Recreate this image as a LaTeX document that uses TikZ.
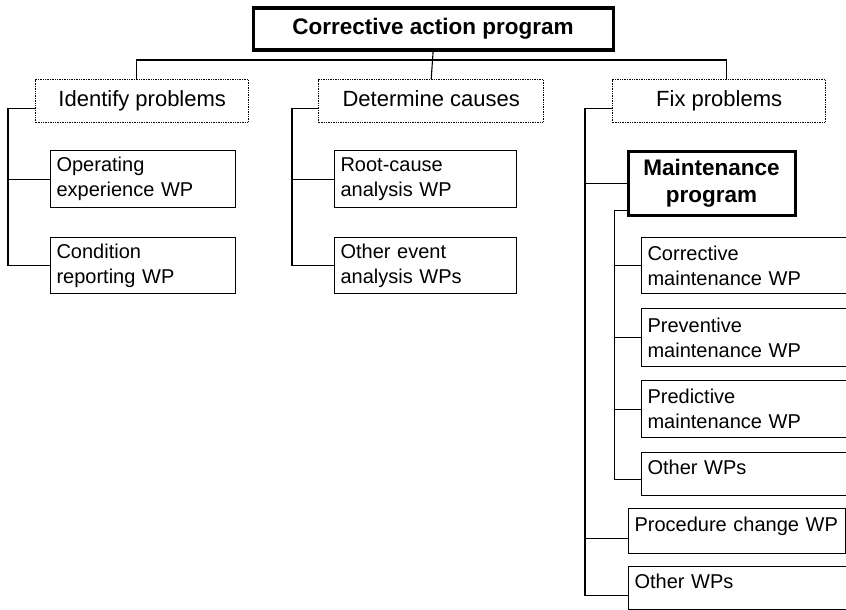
\documentclass[tikz,border=0pt]{standalone}
\usepackage{fontspec}
\setmainfont{Liberation Sans}
\usepackage{tikz}

\tikzset{
  box/.style={draw, line width=1.1pt, anchor=north west, inner xsep=6pt, inner ysep=0pt,
    align=left, font=\fontsize{20}{25}\selectfont},
  onebox/.style={box, text height=10pt, text depth=10pt},
  group/.style={draw, densely dotted, line width=1.4pt, anchor=north west, inner sep=0pt,
    text height=16pt, text depth=5pt, font=\fontsize{22}{26}\selectfont},
  prog/.style={draw, line width=3.2pt, anchor=north west, inner sep=0pt, align=center,
    font=\bfseries\fontsize{22.5}{27}\selectfont},
  link/.style={line width=1.1pt},
}

\begin{document}
\begin{tikzpicture}[x=1pt,y=-1pt]
    \useasboundingbox (0,0) rectangle (846,610);
    \node[prog, minimum width=360pt, minimum height=42pt] (CAP) at (251.5,6.5) {Corrective action program};
    % groups
    \node[group, minimum width=213pt, minimum height=43pt] (IP) at (35,79) {Identify problems};
    \node[group, minimum width=225pt, minimum height=43pt] (DC) at (318,79) {Determine causes};
    \node[group, minimum width=213pt, minimum height=43pt] (FP) at (612,79) {Fix problems};
    % work packages
    \node[box, text width=173pt, minimum height=57pt] (OE) at (50,150) {Operating\\experience WP};
    \node[box, text width=173pt, minimum height=56pt] (CR) at (50,237) {Condition\\reporting WP};
    \node[box, text width=170pt, minimum height=57pt] (RC) at (334,150) {Root-cause\\analysis WP};
    \node[box, text width=170pt, minimum height=56pt] (OA) at (334,237) {Other event\\analysis WPs};
    \node[prog, minimum width=167pt, minimum height=64pt] (MP) at (626.5,149.5) {Maintenance\\program};
    \node[box, text width=196pt, minimum height=56pt] (CM) at (641,237) {Corrective\\maintenance WP};
    \node[box, text width=196pt, minimum height=58pt] (PM) at (641,308) {Preventive\\maintenance WP};
    \node[box, text width=196pt, minimum height=57pt] (PD) at (641,380) {Predictive\\maintenance WP};
    \node[onebox, text width=196pt, minimum height=43pt] (OM) at (641,452) {Other WPs};
    \node[onebox, text width=205pt, minimum height=45pt] (PC) at (628,508) {Procedure change WP};
    \node[onebox, text width=206pt, minimum height=43pt] (OW) at (628,566) {Other WPs};

    \coordinate (bus) at (0,60);
    \draw[link] (CAP.south) -- (DC.north);
    \draw[link] ([xshift=-6pt]IP.north) |- ([xshift=7pt]FP.north |- bus) -- ([xshift=7pt]FP.north);

    \draw[link] ([yshift=-7.5pt]IP.west) -- ++(-27,0) coordinate (L) |- (CR.west);
    \draw[link] (L |- OE.west) -- (OE.west);

    \draw[link] ([yshift=-7.5pt]DC.west) -- ++(-26,0) coordinate (M) |- (OA.west);
    \draw[link] (M |- RC.west) -- (RC.west);

    \draw[link] ([yshift=-7.5pt]FP.west) -- ++(-27,0) coordinate (R) |- ([yshift=-7pt]OW.west);
    \draw[link] (R |- MP.west) -- (MP.west);
    \draw[link] ([yshift=-7pt]PC.west -| R) -- ([yshift=-7pt]PC.west);

    \draw[link] ([yshift=6pt]MP.south west) -- ++(-12,0) coordinate (S) |- ([yshift=-5pt]OM.west);
    \foreach \n in {CM,PM,PD}
      \draw[link] (S |- \n.west) -- (\n.west);
\end{tikzpicture}
\end{document}
